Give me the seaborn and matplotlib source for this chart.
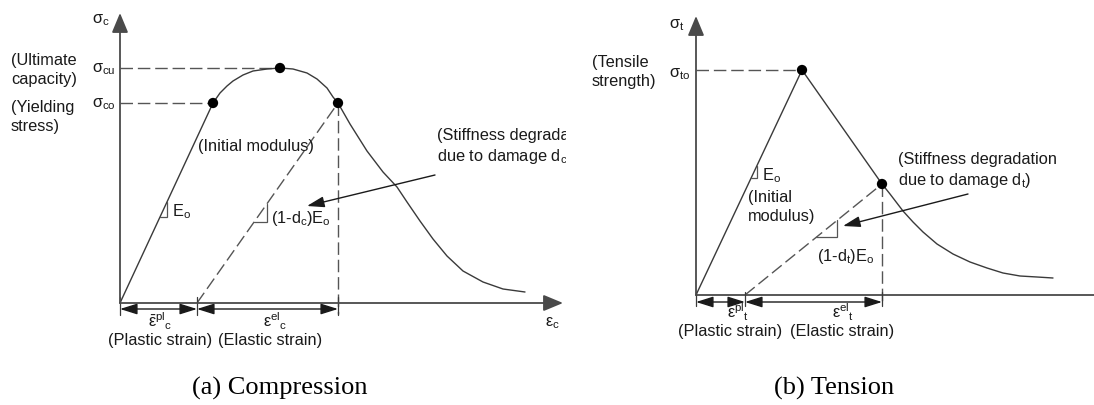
import numpy as np
import matplotlib
matplotlib.use("Agg")
import matplotlib.pyplot as plt
import seaborn as sns

# ---------------------------------------------------------------
# Schematic stress-strain response of concrete (damaged plasticity)
# Units are arbitrary (schematic), strain on x, stress on y.
# ---------------------------------------------------------------

# Compression branch
comp_strain = [0.00, 0.93, 1.00, 1.07, 1.13, 1.23, 1.33, 1.47, 1.60, 1.73, 1.87,
               1.97, 2.07, 2.13, 2.18, 2.30, 2.47, 2.63, 2.77, 2.87, 3.00, 3.13,
               3.27, 3.43, 3.63, 3.83, 4.05]
comp_stress = [0.00, 2.00, 2.10, 2.17, 2.22, 2.28, 2.32, 2.34, 2.35, 2.34, 2.30,
               2.24, 2.15, 2.06, 2.00, 1.79, 1.52, 1.31, 1.16, 1.01, 0.82, 0.64,
               0.47, 0.32, 0.21, 0.14, 0.11]
comp_yield = (0.93, 2.00)       # sigma_co
comp_peak = (1.60, 2.35)        # sigma_cu
comp_unload = (2.18, 2.00)      # point where unloading starts
comp_plastic = 0.77             # plastic strain after unloading

# Tension branch
tens_strain = [0.00, 1.06, 1.86, 1.94, 2.07, 2.17, 2.27, 2.41, 2.57, 2.74, 2.91,
               3.07, 3.24, 3.41, 3.57]
tens_stress = [0.00, 2.25, 1.11, 1.01, 0.84, 0.73, 0.63, 0.51, 0.41, 0.33, 0.27,
               0.22, 0.19, 0.18, 0.17]
tens_peak = (1.06, 2.25)        # sigma_to
tens_unload = (1.86, 1.11)
tens_plastic = 0.49

sns.set_theme(style="white")
plt.rcParams["font.family"] = ["Liberation Sans", "DejaVu Sans"]
plt.rcParams["mathtext.fontset"] = "custom"
plt.rcParams["mathtext.rm"] = "Liberation Sans"
plt.rcParams["mathtext.it"] = "Liberation Sans"
plt.rcParams["mathtext.bf"] = "Liberation Sans:bold"
plt.rcParams["mathtext.default"] = "regular"

INK = "#1a1a1a"
LINE = "#3a3a3a"
AXIS = "#4a4a4a"
FS = 11.8

fig = plt.figure(figsize=(10.94, 4.06), dpi=100)
axc = fig.add_axes([0, 0, 566 / 1094, 1])
axt = fig.add_axes([580 / 1094, 0, 514 / 1094, 1])
axc.set_xlim(-1.20, 4.46)
axc.set_ylim(-1.02, 3.04)
axt.set_xlim(-1.16, 3.98)
axt.set_ylim(-1.10, 2.96)
for ax in (axc, axt):
    ax.axis("off")


def arrow(ax, start, end, style, scale, color, lw):
    ax.annotate("", xy=end, xytext=start,
                arrowprops=dict(arrowstyle=style, color=color, lw=lw,
                                mutation_scale=scale, shrinkA=0, shrinkB=0))


def slope_triangle(ax, x0, slope, x_left, x_right):
    """Small right triangle under a straight line y = slope*(x - x0)."""
    y_lo = slope * (x_left - x0)
    y_hi = slope * (x_right - x0)
    ax.plot([x_left, x_right, x_right], [y_lo, y_lo, y_hi],
            color="#555555", lw=0.9, solid_joinstyle="miter")


def dim_line(ax, x_list, y, tick_lo, tick_hi):
    for xa, xb in zip(x_list[:-1], x_list[1:]):
        arrow(ax, (xa, y), (xb, y), "<|-|>,head_length=0.7,head_width=0.22",
              15, INK, 1.0)
    for xv in x_list:
        ax.plot([xv, xv], [tick_lo, tick_hi], color=LINE, lw=0.9)


dash = dict(color="#555555", lw=1.0, ls=(0, (9, 3.5)))
curve = dict(color=LINE, lw=1.0, sort=False, estimator=None,
             solid_joinstyle="round", solid_capstyle="round")

# ----------------------------- compression -----------------------------
ax = axc
arrow(ax, (0, 0), (0, 2.90), "-|>,head_length=0.6,head_width=0.25", 20, AXIS, 1.3)
arrow(ax, (0, 0), (4.43, 0), "-|>,head_length=0.6,head_width=0.25", 20, AXIS, 1.3)

ax.plot([0, comp_peak[0]], [comp_peak[1]] * 2, **dash)
ax.plot([0, comp_yield[0]], [comp_yield[1]] * 2, **dash)
ax.plot([comp_plastic, comp_unload[0]], [0, comp_unload[1]], **dash)
ax.plot([comp_unload[0]] * 2, [comp_unload[1], -0.11], **dash)

sns.lineplot(x=comp_strain, y=comp_stress, ax=ax, **curve)
sns.scatterplot(x=[comp_yield[0], comp_peak[0], comp_unload[0]],
                y=[comp_yield[1], comp_peak[1], comp_unload[1]],
                ax=ax, color="black", s=55, edgecolor="none", zorder=5)

e0_slope = comp_yield[1] / comp_yield[0]
slope_triangle(ax, 0.0, e0_slope, 0.40, 0.47)
dmg_slope = comp_unload[1] / (comp_unload[0] - comp_plastic)
slope_triangle(ax, comp_plastic, dmg_slope, 1.34, 1.47)

dim_line(ax, [0, comp_plastic, comp_unload[0]], -0.06, 0.06, -0.12)

arrow(ax, (3.15, 1.28), (1.87, 0.97), "-|>,head_length=0.7,head_width=0.22",
      15, INK, 1.0)

ax.text(-0.28, 2.84, "σ$_c$", fontsize=FS, color=INK, va="center")
ax.text(-0.28, 2.35, "σ$_{cu}$", fontsize=FS, color=INK, va="center")
ax.text(-0.28, 2.00, "σ$_{co}$", fontsize=FS, color=INK, va="center")
ax.text(-1.09, 2.34, "(Ultimate\ncapacity)", fontsize=FS, color=INK,
        va="center", linespacing=1.3)
ax.text(-1.09, 1.87, "(Yielding\nstress)", fontsize=FS, color=INK,
        va="center", linespacing=1.3)
ax.text(0.78, 1.58, "(Initial modulus)", fontsize=FS, color=INK, va="center")
ax.text(0.52, 0.92, "E$_o$", fontsize=FS, color=INK, va="center")
ax.text(1.51, 0.86, "(1-d$_c$)E$_o$", fontsize=FS, color=INK, va="center")
ax.text(3.17, 1.57, "(Stiffness degradation\ndue to damage d$_c$)", fontsize=FS,
        color=INK, va="center", linespacing=1.3, clip_on=True)
ax.text(4.25, -0.19, "ε$_c$", fontsize=FS, color=INK, va="center")
ax.text(0.40, -0.17, r"$\bar{ε}^{pl}{}_{c}$", fontsize=FS, color=INK,
        ha="center", va="center")
ax.text(0.40, -0.37, "(Plastic strain)", fontsize=FS, color=INK,
        ha="center", va="center")
ax.text(1.55, -0.17, r"$ε^{el}{}_{c}$", fontsize=FS, color=INK,
        ha="center", va="center")
ax.text(1.50, -0.37, "(Elastic strain)", fontsize=FS, color=INK,
        ha="center", va="center")

# ------------------------------- tension -------------------------------
ax = axt
arrow(ax, (0, 0), (0, 2.79), "-|>,head_length=0.6,head_width=0.25", 20, AXIS, 1.3)
ax.plot([0, 3.98], [0, 0], color=AXIS, lw=1.3)

ax.plot([0, tens_peak[0]], [tens_peak[1]] * 2, **dash)
ax.plot([tens_plastic, tens_unload[0]], [0, tens_unload[1]], **dash)
ax.plot([tens_unload[0]] * 2, [tens_unload[1], -0.10], **dash)

sns.lineplot(x=tens_strain, y=tens_stress, ax=ax, **curve)
sns.scatterplot(x=[tens_peak[0], tens_unload[0]],
                y=[tens_peak[1], tens_unload[1]],
                ax=ax, color="black", s=55, edgecolor="none", zorder=5)

t_slope = tens_peak[1] / tens_peak[0]
slope_triangle(ax, 0.0, t_slope, 0.55, 0.61)
t_dmg = tens_unload[1] / (tens_unload[0] - tens_plastic)
slope_triangle(ax, tens_plastic, t_dmg, 1.20, 1.41)

dim_line(ax, [0, tens_plastic, tens_unload[0]], -0.07, 0.03, -0.11)

arrow(ax, (2.72, 1.01), (1.47, 0.69), "-|>,head_length=0.7,head_width=0.22",
      15, INK, 1.0)

ax.text(-0.27, 2.71, "σ$_t$", fontsize=FS, color=INK, va="center")
ax.text(-0.27, 2.22, "σ$_{to}$", fontsize=FS, color=INK, va="center")
ax.text(-1.04, 2.24, "(Tensile\nstrength)", fontsize=FS, color=INK,
        va="center", linespacing=1.3)
ax.text(0.66, 1.20, "E$_o$", fontsize=FS, color=INK, va="center")
ax.text(0.52, 0.89, "(Initial\nmodulus)", fontsize=FS, color=INK,
        va="center", linespacing=1.3)
ax.text(1.21, 0.39, "(1-d$_t$)E$_o$", fontsize=FS, color=INK, va="center")
ax.text(2.02, 1.25, "(Stiffness degradation\ndue to damage d$_t$)", fontsize=FS,
        color=INK, va="center", linespacing=1.3)
ax.text(0.42, -0.16, r"$ε^{pl}{}_{t}$", fontsize=FS, color=INK,
        ha="center", va="center")
ax.text(0.34, -0.36, "(Plastic strain)", fontsize=FS, color=INK,
        ha="center", va="center")
ax.text(1.47, -0.16, r"$ε^{el}{}_{t}$", fontsize=FS, color=INK,
        ha="center", va="center")
ax.text(1.46, -0.36, "(Elastic strain)", fontsize=FS, color=INK,
        ha="center", va="center")

# ------------------------------- captions -------------------------------
fig.text(280 / 1094, 0.044, "(a) Compression", family="Liberation Serif",
         fontsize=19, color="black", ha="center", va="center")
fig.text(834 / 1094, 0.044, "(b) Tension", family="Liberation Serif",
         fontsize=19, color="black", ha="center", va="center")

fig.savefig("out.png", dpi=100, facecolor="white")
